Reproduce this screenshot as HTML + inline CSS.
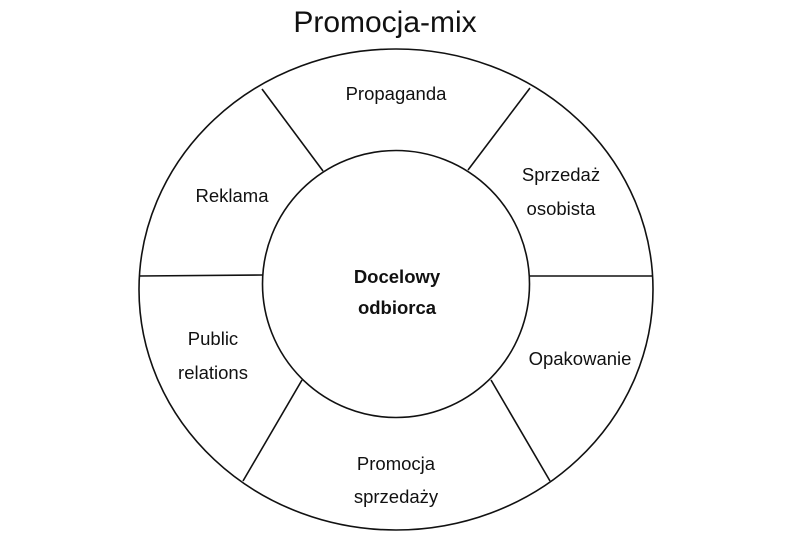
<!DOCTYPE html>
<html><head><meta charset="utf-8"><style>
html,body{margin:0;padding:0;background:#fff;}
svg{display:block;}
text{font-family:"Liberation Sans",sans-serif;fill:#111;}
</style></head><body>
<svg width="800" height="542" viewBox="0 0 800 542">
<text x="385" y="32" font-size="30" text-anchor="middle">Promocja-mix</text>
<g stroke="#111" stroke-width="1.6" fill="none">
<ellipse cx="396" cy="289.5" rx="257" ry="240.5"/>
<circle cx="396" cy="284" r="133.5"/>
<line x1="262" y1="89" x2="323" y2="171"/>
<line x1="530" y1="88" x2="468" y2="170"/>
<line x1="139" y1="276" x2="263" y2="275"/>
<line x1="529" y1="276" x2="653" y2="276"/>
<line x1="302" y1="380" x2="243" y2="481"/>
<line x1="491" y1="380" x2="550" y2="481"/>
</g>
<g font-size="18.5" text-anchor="middle">
<text x="396" y="100">Propaganda</text>
<text x="232" y="202">Reklama</text>
<text x="561" y="181">Sprzedaż</text>
<text x="561" y="215">osobista</text>
<text x="213" y="345">Public</text>
<text x="213" y="379">relations</text>
<text x="580" y="365">Opakowanie</text>
<text x="396" y="470">Promocja</text>
<text x="396" y="503">sprzedaży</text>
</g>
<g font-size="18.5" font-weight="bold" text-anchor="middle">
<text x="397" y="283">Docelowy</text>
<text x="397" y="314">odbiorca</text>
</g>
</svg>
</body></html>
